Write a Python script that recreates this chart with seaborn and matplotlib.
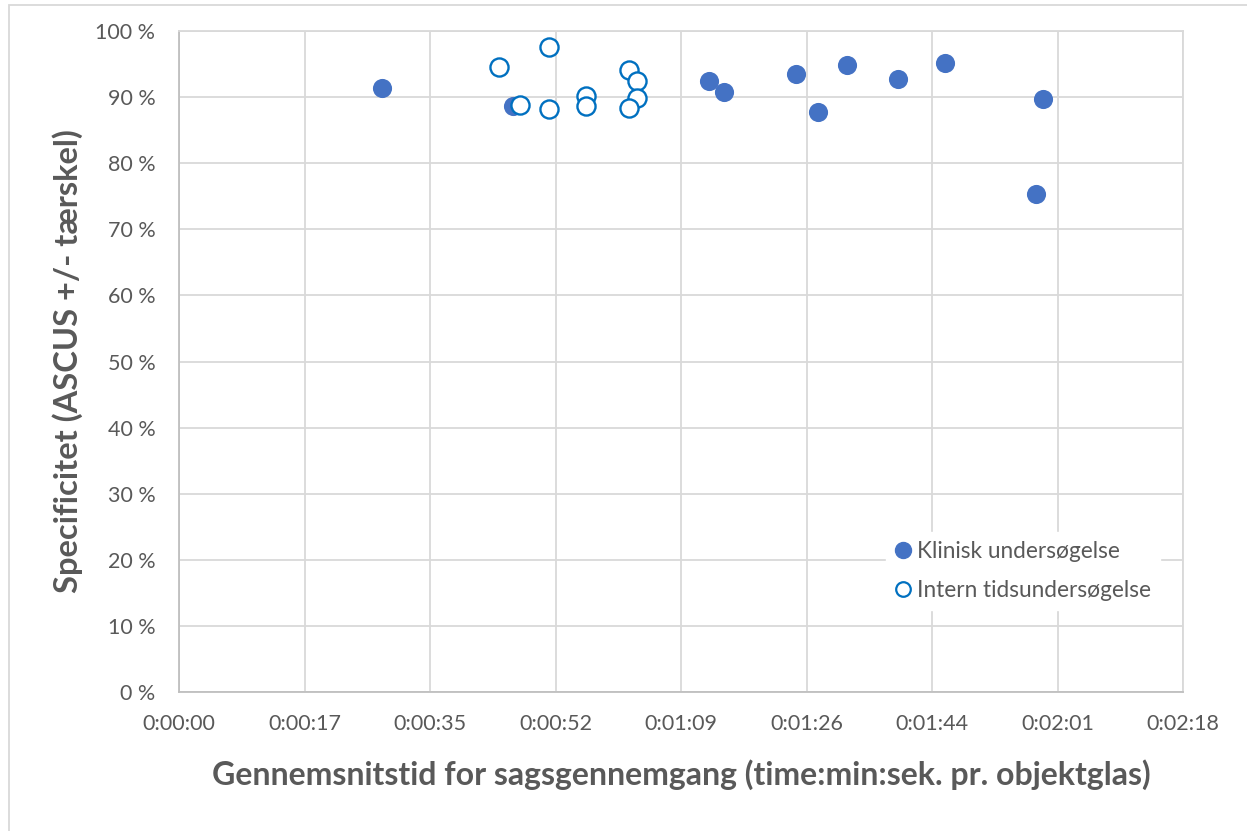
import numpy as np
import pandas as pd
import seaborn as sns
import matplotlib.pyplot as plt
from matplotlib.patches import Rectangle
from matplotlib.lines import Line2D

# ------------------------------------------
# Data (seconds per slide, specificity in %)
# ------------------------------------------
klinisk_tid = [28, 46, 73, 75, 85, 88, 92, 99, 105.5, 119, 118]
klinisk_spec = [91.4, 88.6, 92.4, 90.8, 93.5, 87.7, 94.8, 92.8, 95.2, 89.7, 75.3]

intern_tid = [44, 51, 47, 51, 56, 56, 62, 63, 63, 62]
intern_spec = [94.6, 97.6, 88.8, 88.2, 90.2, 88.7, 94.1, 92.4, 89.9, 88.4]

serie_navne = ["Klinisk undersøgelse", "Intern tidsundersøgelse"]

x_ticks = [0, 17.28, 34.56, 51.84, 69.12, 86.4, 103.68, 120.96, 138.24]
x_ticklabels = ["0:00:00", "0:00:17", "0:00:35", "0:00:52", "0:01:09",
                "0:01:26", "0:01:44", "0:02:01", "0:02:18"]
y_ticks = [0, 10, 20, 30, 40, 50, 60, 70, 80, 90, 100]
y_ticklabels = [f"{v} %" for v in y_ticks]

df_k = pd.DataFrame({"tid": klinisk_tid, "spec": klinisk_spec})
df_i = pd.DataFrame({"tid": intern_tid, "spec": intern_spec})

# ------------------------------------------
# Style
# ------------------------------------------
sns.set_style("white")
plt.rcParams["font.family"] = ["Lato", "DejaVu Sans"]
tekst = "#595959"
grid = "#D9D9D9"
fyldt = "#4472C4"
aaben = "#0070C0"

fig = plt.figure(figsize=(12.47, 8.31), dpi=100)
ax = fig.add_axes([179 / 1247, 1 - 692 / 831, 1004 / 1247, 661 / 831])

ax.set_axisbelow(True)
ax.grid(True, color=grid, linewidth=1.3)

sns.scatterplot(data=df_k, x="tid", y="spec", ax=ax, s=190, color=fyldt,
                edgecolor=fyldt, linewidth=0, zorder=3)
sns.scatterplot(data=df_i, x="tid", y="spec", ax=ax, s=170, facecolor="white",
                edgecolor=aaben, linewidth=1.7, zorder=3)

ax.set_xlim(0, 138.24)
ax.set_ylim(0, 100)
ax.set_xticks(x_ticks)
ax.set_xticklabels(x_ticklabels)
ax.set_yticks(y_ticks)
ax.set_yticklabels(y_ticklabels)
ax.tick_params(axis="both", length=0, labelsize=15.5, labelcolor=tekst)
ax.tick_params(axis="x", pad=16)
ax.tick_params(axis="y", pad=17)

for sp in ax.spines.values():
    sp.set_visible(True)
    sp.set_color(grid)
    sp.set_linewidth(1.3)
ax.spines["left"].set_color("#BFBFBF")
ax.spines["bottom"].set_color("#BFBFBF")

ax.set_xlabel("Gennemsnitstid for sagsgennemgang (time:min:sek. pr. objektglas)",
              fontsize=23, fontweight="bold", color=tekst, va="center")
ax.xaxis.set_label_coords(0.5, (692 - 775) / 661)
ax.set_ylabel("Specificitet (ASCUS +/- tærskel)",
              fontsize=23.5, fontweight="bold", color=tekst, va="center")
ax.yaxis.set_label_coords((68 - 179) / 1004, 0.5)

handles = [
    Line2D([], [], marker="o", linestyle="", markersize=11.5, markerfacecolor=fyldt,
           markeredgecolor=fyldt),
    Line2D([], [], marker="o", linestyle="", markersize=10.5, markerfacecolor="white",
           markeredgecolor=aaben, markeredgewidth=1.6),
]
leg = ax.legend(handles, serie_navne, loc="upper left",
                bbox_to_anchor=((886 - 179) / 1004, (692 - 532) / 661),
                frameon=True, facecolor="white", edgecolor="white", framealpha=1,
                fontsize=16.3, handlelength=0.7, handletextpad=0.25,
                labelspacing=0.8, borderpad=0.4, borderaxespad=0)
for t in leg.get_texts():
    t.set_color(tekst)
leg.set_zorder(5)

# outer chart border
fig.patches.append(Rectangle((9 / 1247, -0.1), 1.2, 1.1 - 4.5 / 831,
                             transform=fig.transFigure, fill=False,
                             edgecolor=grid, linewidth=1.3))

fig.savefig("out.png", dpi=100)
